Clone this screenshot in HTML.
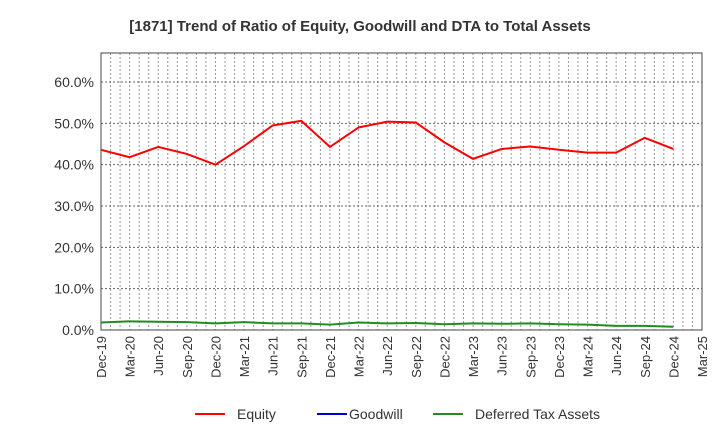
<!DOCTYPE html>
<html><head><meta charset="utf-8"><style>
body{margin:0;background:#fff;font-family:"Liberation Sans",sans-serif}
</style></head><body>
<svg id="chart" width="720" height="440" xmlns="http://www.w3.org/2000/svg">
<text x="360" y="31" text-anchor="middle" font-size="15" font-weight="bold" fill="#333">[1871]  Trend of Ratio of Equity, Goodwill and DTA to Total Assets</text>
<g id="grid"></g><g id="axes"></g><g id="series"></g>
<g font-size="14" fill="#333">
<line x1="195" y1="414" x2="225" y2="414" stroke="#f00" stroke-width="2"/><text x="237" y="419">Equity</text>
<line x1="317" y1="414" x2="347" y2="414" stroke="#0000cc" stroke-width="2"/><text x="349" y="419">Goodwill</text>
<line x1="433" y1="414" x2="463" y2="414" stroke="#228b22" stroke-width="2"/><text x="475" y="419">Deferred Tax Assets</text>
</g>
</svg>
<script>
const xLabels=["Dec-19","Mar-20","Jun-20","Sep-20","Dec-20","Mar-21","Jun-21","Sep-21","Dec-21","Mar-22","Jun-22","Sep-22","Dec-22","Mar-23","Jun-23","Sep-23","Dec-23","Mar-24","Jun-24","Sep-24","Dec-24","Mar-25"];
const yTicks=[0,10,20,30,40,50,60];
const equity=[43.6,41.8,44.3,42.6,40.0,44.5,49.5,50.6,44.3,49.0,50.4,50.2,45.4,41.4,43.8,44.4,43.6,42.9,42.9,46.5,43.8];
const dta=[1.8,2.1,2.0,1.9,1.6,1.9,1.6,1.6,1.3,1.8,1.6,1.7,1.4,1.6,1.5,1.6,1.4,1.3,1.0,1.0,0.8];
const goodwill=[];
const L=101,R=702,T=53,B=330;
const x=i=>L+(R-L)*i/(xLabels.length-1);
const y=v=>B-v*(B-82)/60;
const NS="http://www.w3.org/2000/svg";
function mk(tag,attrs,parent){const e=document.createElementNS(NS,tag);for(const k in attrs)e.setAttribute(k,attrs[k]);parent.appendChild(e);return e;}
const grid=document.getElementById('grid'),axes=document.getElementById('axes'),ser=document.getElementById('series');
const months=(xLabels.length-1)*3;
for(let m=1;m<months;m++){const xx=L+(R-L)*m/months;
const g=mk('line',{x1:xx,x2:xx,y1:T,y2:B,stroke:'#999','stroke-dasharray':'2,2','stroke-width':1},grid);

}
yTicks.forEach(v=>{if(v>0){const g=mk('line',{x1:L,x2:R,y1:y(v),y2:y(v),stroke:'#666','stroke-dasharray':'2,2','stroke-width':1},grid);

}
const t=mk('text',{x:L-7,y:y(v)+5,'text-anchor':'end','font-size':14,fill:'#333'},axes);t.textContent=v.toFixed(1)+'%';

});
xLabels.forEach((s,i)=>{const t=mk('text',{transform:`translate(${x(i)+5},${B+6}) rotate(-90)`,'text-anchor':'end','font-size':13,fill:'#333'},axes);t.textContent=s;

});
const fr=mk('rect',{x:L,y:T,width:R-L,height:B-T,fill:'none',stroke:'#444','stroke-width':1},axes);


function line(arr,color,name){if(!arr.length)return;const p=mk('polyline',{points:arr.map((v,i)=>x(i)+','+y(v)).join(' '),fill:'none',stroke:color,'stroke-width':2},ser);

}
line(goodwill,'#0000cc','goodwill-line');
line(dta,'#228b22','dta-line');
line(equity,'#f00','equity-line');
</script>
</body></html>
